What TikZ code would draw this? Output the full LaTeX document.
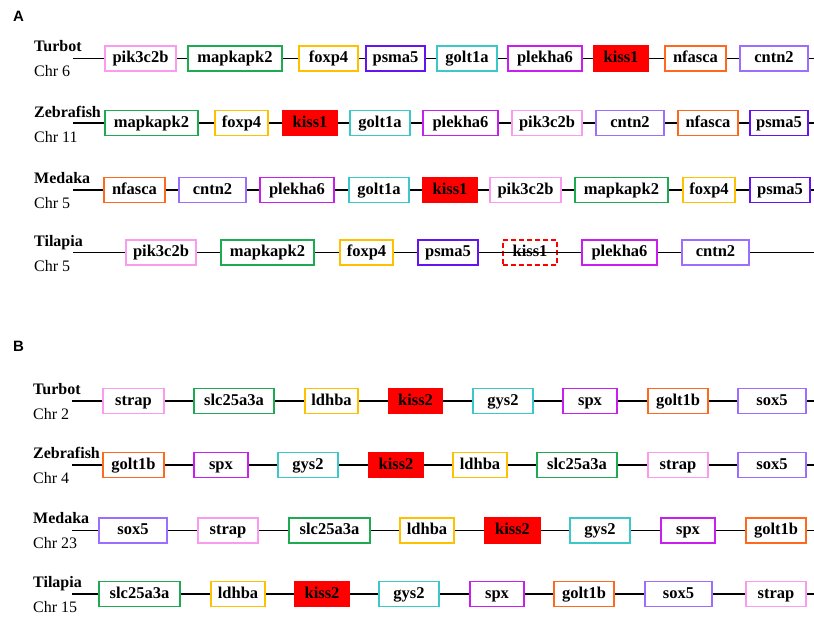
\documentclass[tikz,border=0pt]{standalone}
\usepackage{fontspec}
\setmainfont{Liberation Serif}
\newfontfamily\panelfont{Liberation Sans}
\definecolor{cpink}{RGB}{250,155,240}
\definecolor{cgreen}{RGB}{30,170,80}
\definecolor{cyellow}{RGB}{255,192,0}
\definecolor{cpurple}{RGB}{100,20,240}
\definecolor{cteal}{RGB}{60,200,200}
\definecolor{cmag}{RGB}{200,30,240}
\definecolor{corange}{RGB}{255,105,30}
\definecolor{clav}{RGB}{155,110,255}
\definecolor{kred}{RGB}{255,0,0}
\tikzset{
  gene/.style={rectangle, line width=1.8pt, fill=white, inner sep=0pt,
    minimum height=25pt, text height=11.5pt, text depth=3pt,
    font=\fontsize{16.5}{19}\selectfont\bfseries},
  pinkb/.style={draw=cpink}, greenb/.style={draw=cgreen},
  yellowb/.style={draw=cyellow}, purpleb/.style={draw=cpurple},
  tealb/.style={draw=cteal}, magb/.style={draw=cmag},
  orangeb/.style={draw=corange}, lavb/.style={draw=clav},
  kissb/.style={draw=kred, fill=kred},
  lostb/.style={draw=kred, dashed, dash pattern=on 5pt off 3pt},
  chr/.style={line width=1.7pt, black},
  species/.style={anchor=base west, inner sep=0pt, font=\fontsize{16}{19}\selectfont\bfseries},
  chrlab/.style={anchor=base west, inner sep=0pt, font=\fontsize{16}{19}\selectfont},
  panel/.style={anchor=base west, inner sep=0pt, font=\fontsize{15}{18}\selectfont\panelfont\bfseries}
}
\newcommand\generow[4]{%
  \coordinate (#1-s) at (#3,#2);
  \coordinate (#1-e) at (814,#2);
  \foreach \a/\b/\c/\t [count=\i] in {#4} {
    \pgfmathsetmacro\w{\b-\a-1.8}
    \node[gene,\c,minimum width=\w pt] (#1-\i) at ({(\a+\b)/2},#2) {\t};
    \ifnum\i=1
      \draw[chr] (#1-s) -- (#1-1.west);
    \else
      \pgfmathtruncatemacro\p{\i-1}
      \draw[chr] (#1-\p.east) -- (#1-\i.west);
    \fi
    \xdef\ngenes{\i}
  }
  \draw[chr] (#1-\ngenes.east) -- (#1-e);
}
\begin{document}
\begin{tikzpicture}[x=1pt,y=-1pt]
\useasboundingbox[fill=white] (0,0) rectangle (814,616);
% Panel A
\node[panel] (pa) at (13,21) {A};
\node[species] (a1l) at (34,51.5) {Turbot};
\node[chrlab] (a1c) at (34,76.5) {Chr 6};
\generow{a1}{58.5}{73}{104/177/pinkb/pik3c2b, 187/283/greenb/mapkapk2, 298/359/yellowb/foxp4, 365/426/purpleb/psma5, 436/498/tealb/golt1a, 507/583/magb/plekha6, 593/649/kissb/kiss1, 664/727/orangeb/nfasca, 739/809/lavb/cntn2}
\node[species] (a2l) at (34,117) {Zebrafish};
\node[chrlab] (a2c) at (34,142) {Chr 11};
\generow{a2}{123}{73}{104/199/greenb/mapkapk2, 214/269/yellowb/foxp4, 282/338/kissb/kiss1, 349/411/tealb/golt1a, 422/499/magb/plekha6, 511/583/pinkb/pik3c2b, 595/665/lavb/cntn2, 677/739/orangeb/nfasca, 749/809/purpleb/psma5}
\node[species] (a3l) at (34,183) {Medaka};
\node[chrlab] (a3c) at (34,208) {Chr 5};
\generow{a3}{190}{73}{103/166/orangeb/nfasca, 178/247/lavb/cntn2, 259/335/magb/plekha6, 348/410/tealb/golt1a, 422/478/kissb/kiss1, 489/562/pinkb/pik3c2b, 574/669/greenb/mapkapk2, 682/736/yellowb/foxp4, 749/811/purpleb/psma5}
\node[species] (a4l) at (34,246) {Tilapia};
\node[chrlab] (a4c) at (34,271) {Chr 5};
\generow{a4}{252.5}{73}{125/197/pinkb/pik3c2b, 220/315/greenb/mapkapk2, 339/394/yellowb/foxp4, 417/479/purpleb/psma5, 502/558/lostb/kiss1, 581/658/magb/plekha6, 681/750/lavb/cntn2}
\draw[chr] (a4-5.west) -- (a4-5.east);
% Panel B
\node[panel] (pb) at (13,351) {B};
\node[species] (b1l) at (33,394) {Turbot};
\node[chrlab] (b1c) at (33,419) {Chr 2};
\generow{b1}{401}{72}{102/165/pinkb/strap, 193/275/greenb/slc25a3a, 304/359/yellowb/ldhba, 388/443/kissb/kiss2, 472/534/tealb/gys2, 562/618/magb/spx, 647/709/orangeb/golt1b, 737/807/lavb/sox5}
\node[species] (b2l) at (33,458) {Zebrafish};
\node[chrlab] (b2c) at (33,483) {Chr 4};
\generow{b2}{465}{72}{102/165/orangeb/golt1b, 193/249/magb/spx, 277/339/tealb/gys2, 368/424/kissb/kiss2, 452/508/yellowb/ldhba, 536/618/greenb/slc25a3a, 647/709/pinkb/strap, 737/807/lavb/sox5}
\node[species] (b3l) at (33,523.5) {Medaka};
\node[chrlab] (b3c) at (33,548.5) {Chr 23};
\generow{b3}{530.5}{72}{98/168/lavb/sox5, 197/259/pinkb/strap, 288/371/greenb/slc25a3a, 399/455/yellowb/ldhba, 484/541/kissb/kiss2, 569/631/tealb/gys2, 660/716/magb/spx, 745/807/orangeb/golt1b}
\node[species] (b4l) at (33,587) {Tilapia};
\node[chrlab] (b4c) at (33,612) {Chr 15};
\generow{b4}{594}{72}{98/181/greenb/slc25a3a, 210/266/yellowb/ldhba, 294/350/kissb/kiss2, 378/440/tealb/gys2, 469/525/magb/spx, 553/615/orangeb/golt1b, 644/713/lavb/sox5, 745/807/pinkb/strap}
\end{tikzpicture}
\end{document}
